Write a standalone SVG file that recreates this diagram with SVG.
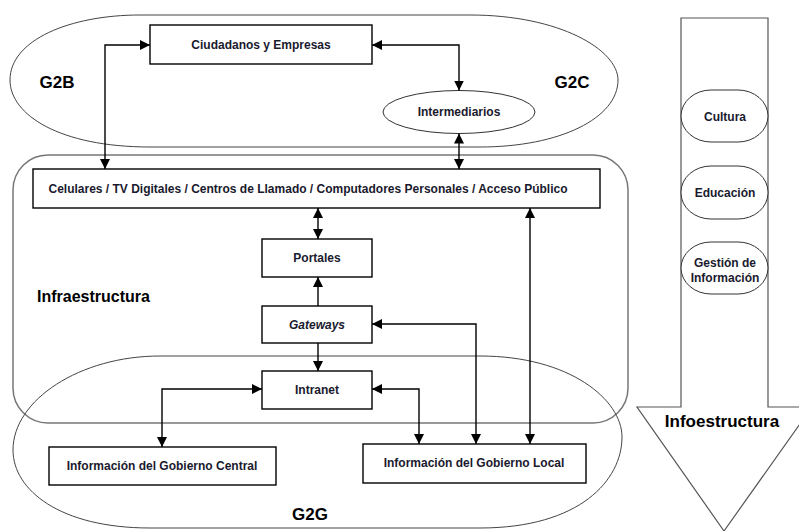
<svg xmlns="http://www.w3.org/2000/svg" width="799" height="531" viewBox="0 0 799 531">
<defs>
<marker id="ah" viewBox="0 0 10 10" refX="10" refY="5" markerWidth="10" markerHeight="10" markerUnits="userSpaceOnUse" orient="auto-start-reverse">
<path d="M0,0 L10,5 L0,10 z" fill="#000"/>
</marker>
<style>
.box{fill:#fff;stroke:#000;stroke-width:1.4}
.area{fill:none;stroke:#444;stroke-width:1}
.infra{fill:none;stroke:#777;stroke-width:1.5}
.t{font-family:"Liberation Sans",Arial,sans-serif;font-weight:bold;font-size:12px;fill:#1a1a2e;text-anchor:middle}
.big{font-family:"Liberation Sans",Arial,sans-serif;font-weight:bold;font-size:17px;fill:#000;text-anchor:middle}
.c{fill:none;stroke:#000;stroke-width:1.4;marker-end:url(#ah)}
.c2{fill:none;stroke:#000;stroke-width:1.4;marker-start:url(#ah);marker-end:url(#ah)}
</style>
</defs>
<rect width="799" height="531" fill="#fff"/>

<g id="infoestructura">
<polygon points="681,18 768,18 768,407 812,407 724,531 637,407 681,407" fill="#fff" stroke="#555" stroke-width="1.2"/>
<text class="big" x="722" y="427">Infoestructura</text>
</g>
<g id="cultura"><rect x="681" y="90" width="87" height="52" rx="30" ry="26" fill="#fff" stroke="#333" stroke-width="1"/><text class="t" x="725" y="121">Cultura</text></g>
<g id="educacion"><rect x="681" y="166" width="87" height="53" rx="30" ry="26" fill="#fff" stroke="#333" stroke-width="1"/><text class="t" x="725" y="197">Educación</text></g>
<g id="gestion"><rect x="681" y="242" width="87" height="52" rx="30" ry="26" fill="#fff" stroke="#333" stroke-width="1"/><text class="t" x="725" y="267">Gestión de</text><text class="t" x="725" y="282">Información</text></g>

<g id="g2bc">
<path class="area" d="M140,15 H470 C560,15 618,50 618,80 C618,118 560,147 480,147 H150 C60,147 10,115 10,80 C10,40 70,15 140,15 Z"/>
<text class="big" x="57" y="88">G2B</text>
<text class="big" x="572" y="88">G2C</text>
</g>
<g id="infraestructura">
<rect class="infra" x="13" y="155" width="615" height="268" rx="35" ry="35"/>
<text class="big" x="37" y="302" style="text-anchor:start;font-size:16px">Infraestructura</text>
</g>
<g id="g2g">
<path class="area" d="M160,356 H480 C570,356 622,400 622,437 C622,480 580,528 480,528 H150 C60,528 13,490 13,450 C13,400 80,356 160,356 Z"/>
<text class="big" x="310" y="520">G2G</text>
</g>

<g id="ciudadanos"><rect class="box" x="150" y="25" width="222" height="39"/><text class="t" x="261" y="49">Ciudadanos y Empresas</text></g>
<g id="intermediarios"><ellipse cx="459" cy="112" rx="76" ry="21.5" fill="#fff" stroke="#333" stroke-width="1"/><text class="t" x="459" y="116">Intermediarios</text></g>
<g id="celulares"><rect class="box" x="33" y="169" width="567" height="39"/><text class="t" x="308" y="193">Celulares / TV Digitales / Centros de Llamado / Computadores Personales / Acceso Público</text></g>
<g id="portales"><rect class="box" x="262" y="239" width="110" height="38"/><text class="t" x="317" y="262">Portales</text></g>
<g id="gateways"><rect class="box" x="262" y="306" width="110" height="37"/><text class="t" x="317" y="329" font-style="italic">Gateways</text></g>
<g id="intranet"><rect class="box" x="262" y="371" width="110" height="38"/><text class="t" x="317" y="394">Intranet</text></g>
<g id="central"><rect class="box" x="49" y="447" width="227" height="38"/><text class="t" x="162" y="470">Información del Gobierno Central</text></g>
<g id="local"><rect class="box" x="363" y="444" width="223" height="39"/><text class="t" x="474" y="467">Información del Gobierno Local</text></g>

<g id="connectors">
<path class="c2" d="M105,169 V45 H150"/>
<path class="c2" d="M372,45 H459 V90.5"/>
<path class="c2" d="M459,133.5 V169"/>
<path class="c2" d="M318,208 V239"/>
<path class="c" d="M318,306 V277"/>
<path class="c" d="M318,343 V371"/>
<path class="c2" d="M262,389 H162 V447"/>
<path class="c2" d="M372,389 H419 V444"/>
<path class="c2" d="M372,324 H476 V444"/>
<path class="c2" d="M530,208 V444"/>
</g>
</svg>
